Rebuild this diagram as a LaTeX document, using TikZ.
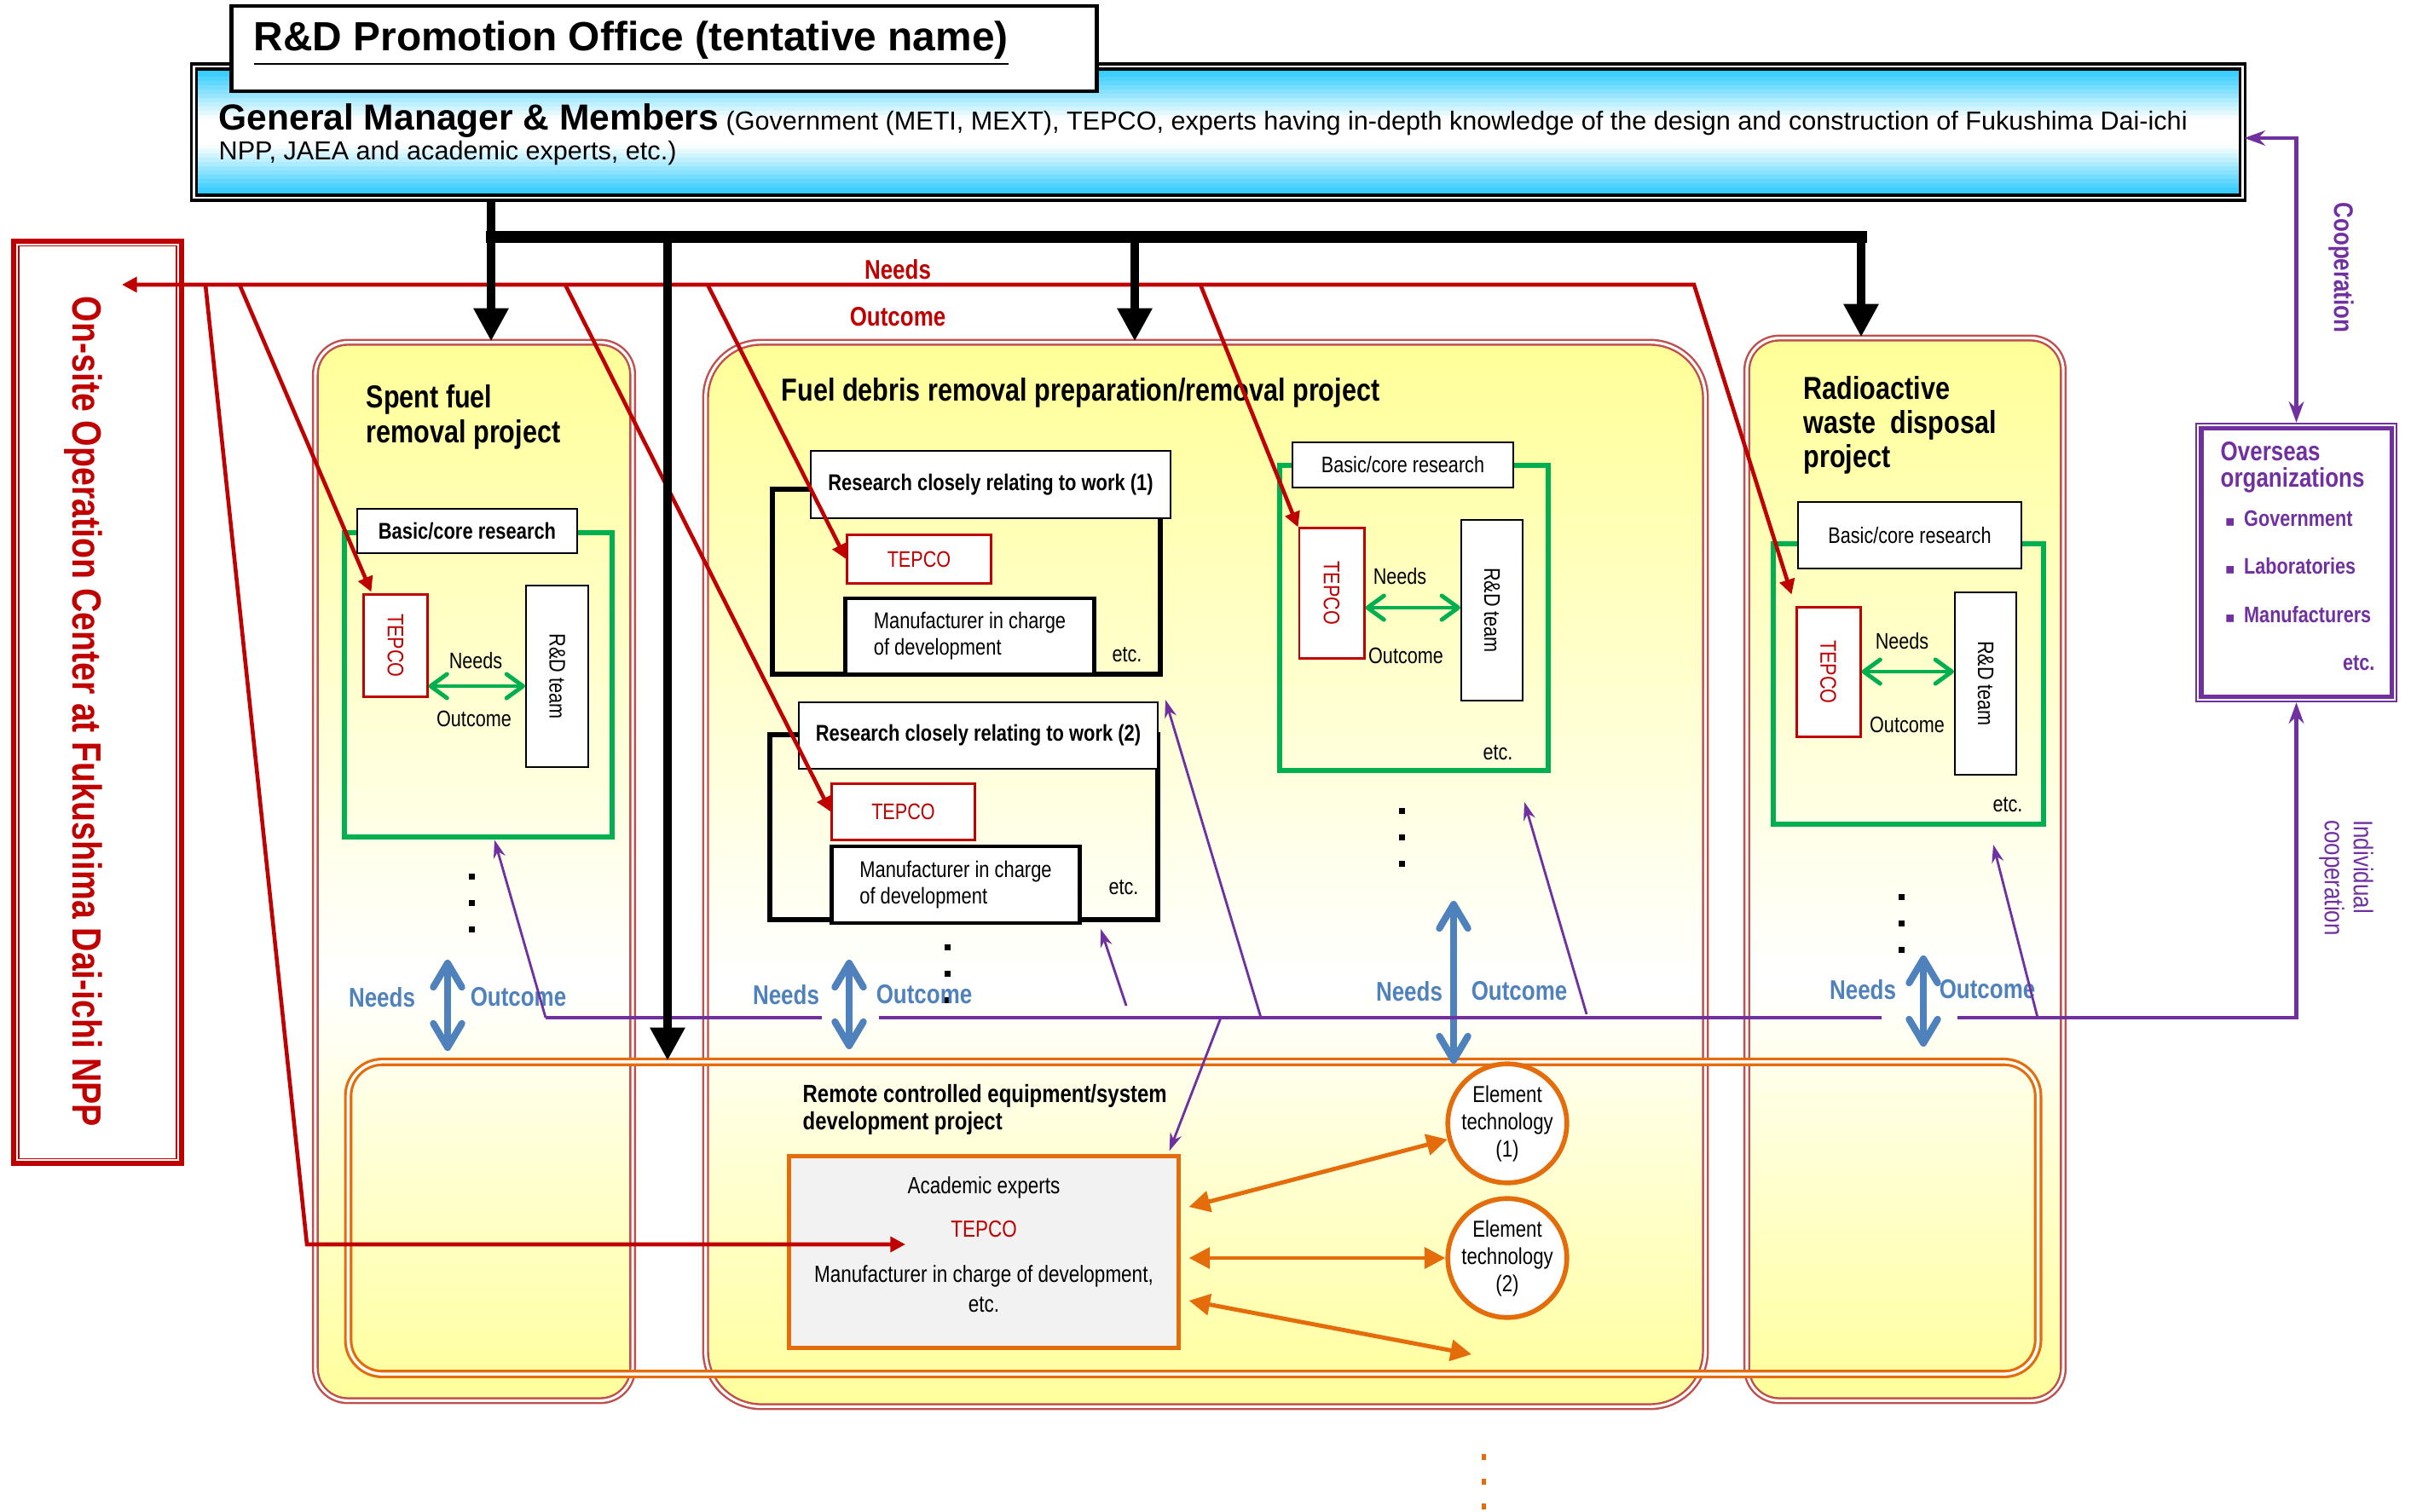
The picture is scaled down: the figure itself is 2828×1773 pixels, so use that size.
\documentclass[tikz,border=0pt]{standalone}
\usepackage{fontspec}
\usepackage{graphicx}
\setmainfont{Liberation Sans}[FakeStretch=0.82]
\newfontfamily\widefont{Liberation Sans}
\newfontfamily\symbolfont{DejaVu Sans}
\usetikzlibrary{arrows.meta,calc}

\definecolor{projred}{HTML}{C0504D}
\definecolor{projyellow}{HTML}{FFFF99}
\definecolor{boxgreen}{HTML}{00B050}
\definecolor{darkred}{HTML}{C00000}
\definecolor{deeporange}{HTML}{E46C0A}
\definecolor{steelblue}{HTML}{4F81BD}
\definecolor{coopviolet}{HTML}{7030A0}
\definecolor{skycyan}{HTML}{33CCFF}
\definecolor{panelgray}{HTML}{F2F2F2}

\begin{document}
\begin{tikzpicture}[x=0.01cm, y=-0.01cm, line join=miter,
  project/.style={draw=projred, double=white, line width=0.7pt, double distance=0.9pt},
  remote box/.style={draw=deeporange, double=white, line width=0.9pt, double distance=1pt, rounded corners=0.4cm},
  basic group/.style={draw=boxgreen, line width=1.9pt},
  research group/.style={draw=black, line width=1.7pt},
  label box/.style={draw=black, line width=0.7pt, fill=white, inner sep=0pt},
  tepco/.style={draw=darkred, line width=0.85pt, fill=white, text=darkred, inner sep=0pt, font=\fontsize{7.5}{9}\selectfont},
  team/.style={draw=black, line width=0.6pt, fill=white, inner sep=0pt, font=\fontsize{7.5}{9}\selectfont},
  maker/.style={draw=black, line width=1.4pt, fill=white, align=left, inner sep=0pt, font=\fontsize{7.6}{8.8}\selectfont},
  smalltext/.style={font=\fontsize{7.5}{9}\selectfont},
  titletext/.style={inner sep=0pt, align=left, font=\bfseries\fontsize{10.6}{11.7}\selectfont},
  element/.style={circle, draw=deeporange, line width=1.6pt, fill=white, minimum size=1.24cm, inner sep=0pt, align=center, font=\fontsize{7.7}{9.1}\selectfont},
  bluelabel/.style={text=steelblue, font=\bfseries\fontsize{9}{11}\selectfont},
  redlabel/.style={text=darkred, font=\bfseries\fontsize{9}{11}\selectfont},
  violettext/.style={text=coopviolet, inner sep=0pt, font=\bfseries\fontsize{7.5}{9}\selectfont},
  trunk/.style={draw=black, line width=3.1pt},
  trunkarrow/.style={trunk, -{Triangle[length=11pt,width=11pt]}},
  redline/.style={draw=darkred, line width=1.3pt, -{Triangle[length=5pt,width=5pt]}},
  coopline/.style={draw=coopviolet, line width=1.3pt},
  branch/.style={draw=coopviolet, line width=0.8pt, -{Stealth[length=6pt,width=4pt]}},
  greenarrow/.style={draw=boxgreen, line width=1.4pt, {Straight Barb[length=5.5pt,width=8pt,round]}-{Straight Barb[length=5.5pt,width=8pt,round]}},
  bluearrow/.style={draw=steelblue, line width=2.3pt, {Straight Barb[length=8pt,width=9.5pt,round]}-{Straight Barb[length=8pt,width=9.5pt,round]}},
  orangearrow/.style={draw=deeporange, line width=1.4pt, {Triangle[length=7pt,width=7pt]}-{Triangle[length=7pt,width=7pt]}}]

\useasboundingbox (0,0) rectangle (2828,1773);

% yellow fades of the project frames
\foreach \xa/\ya/\xb/\yb/\r in {370/402/742/1643/0.38cm, 828/402/2000/1650/0.65cm, 2049/397/2420/1643/0.38cm} {
  \begin{scope}
    \clip[rounded corners=\r] (\xa,\ya) rectangle (\xb,\yb);
    \foreach \i in {0,...,61} {
      \pgfmathsetmacro\ys{\ya+(\yb-\ya)/62*\i}
      \pgfmathsetmacro\ye{\ys+(\yb-\ya)/62+2}
      \pgfmathtruncatemacro\p{\i<37 ? 100*(37-\i)/37 : 100*(\i-37)/25}
      \fill[projyellow!\p!white] (\xa,\ys) rectangle (\xb,\ye);
    }
  \end{scope}
}

% project frames
\node[project, rounded corners=0.38cm, minimum width=3.72cm, minimum height=12.41cm] (spent) at (556,1022.5) {};
\node[project, rounded corners=0.65cm, minimum width=11.72cm, minimum height=12.48cm] (debris) at (1414,1026) {};
\node[project, rounded corners=0.38cm, minimum width=3.71cm, minimum height=12.46cm] (radio) at (2234.5,1020) {};
\node[remote box, minimum width=19.81cm, minimum height=3.66cm] (remote) at (1399.5,1429) {};

% promotion office
\begin{scope}
  \clip (230,80) rectangle (2628,230);
  \foreach \i in {0,...,29} {
    \pgfmathsetmacro\ys{80+5*\i}
    \pgfmathtruncatemacro\p{max(0,min(100,100*(abs(\ys+2.5-155)-15)/55))}
    \fill[skycyan!\p!white] (230,\ys) rectangle (2628,\ys+6);
  }
\end{scope}
\node[draw=black, double=white, line width=0.9pt, double distance=0.8pt, minimum width=24.02cm, minimum height=1.54cm] (gm) at (1429,155) {};
\node[draw=black, line width=1.4pt, fill=white, minimum width=10.14cm, minimum height=1.0cm] (office) at (779,57) {};
\node[anchor=base west, inner sep=0pt, font=\widefont\bfseries\fontsize{13.6}{16}\selectfont] (officeTitle) at (297,60) {\underline{R\&D Promotion Office (tentative name)}};
\node[anchor=base west, inner sep=0pt, font=\widefont\fontsize{8.7}{10.5}\selectfont] (gmLine1) at (256,153) {{\fontsize{12.1}{14}\selectfont\bfseries General Manager \& Members} (Government (METI, MEXT), TEPCO, experts having in-depth knowledge of the design and construction of Fukushima Dai-ichi};
\node[anchor=base west, inner sep=0pt, font=\widefont\fontsize{8.7}{10.5}\selectfont] (gmLine2) at (256,188) {NPP, JAEA and academic experts, etc.)};

% on-site center
\node[draw=darkred, line width=1.8pt, fill=white, minimum width=1.97cm, minimum height=10.82cm] (onsite) at (114.5,824) {};
\draw[darkred, line width=0.5pt] ($(onsite.north west)+(9,9)$) rectangle ($(onsite.south east)+(-9,-9)$);
\node[rotate=-90, text=darkred, font=\bfseries\fontsize{13.6}{16}\selectfont] (onsiteText) at (98,835) {On-site Operation Center at Fukushima Dai-ichi NPP};

% overseas
\node[draw=coopviolet, line width=0.6pt, fill=white, minimum width=2.35cm, minimum height=3.26cm] (overseas) at (2693.5,660) {};
\draw[coopviolet, line width=1.5pt] ($(overseas.north west)+(7,7)$) rectangle ($(overseas.south east)+(-7,-7)$);
\node[violettext, anchor=north west, align=left, font=\bfseries\fontsize{9}{8.6}\selectfont] (overseasTitle) at (2604,518) {Overseas\\organizations};
\node[violettext, anchor=west] (government) at (2609,608) {{\symbolfont\fontsize{5}{6}\selectfont ▪}\hspace{3pt}Government};
\node[violettext, anchor=west] (laboratories) at (2609,664) {{\symbolfont\fontsize{5}{6}\selectfont ▪}\hspace{3pt}Laboratories};
\node[violettext, anchor=west] (manufacturers) at (2609,721) {{\symbolfont\fontsize{5}{6}\selectfont ▪}\hspace{3pt}Manufacturers};
\node[violettext, anchor=east] (overseasEtc) at (2786,778) {etc.};
\node[rotate=-90, text=coopviolet, font=\bfseries\fontsize{9}{11}\selectfont] (cooperation) at (2746,314) {Cooperation};
\node[rotate=-90, align=left, text=coopviolet, font=\fontsize{9}{9.7}\selectfont] (individual) at (2752,1030) {Individual\\cooperation};

% spent fuel removal project
\node[titletext, anchor=north west] (spentTitle) at (429,451) {Spent fuel\\removal project};
\node[basic group, minimum width=3.14cm, minimum height=3.57cm] (grnS) at (561,803.5) {};
\node[label box, font=\bfseries\fontsize{7.6}{9}\selectfont, minimum width=2.58cm, minimum height=0.52cm] (basS) at (548,623) {Basic/core research};
\node[tepco, minimum width=0.74cm, minimum height=1.19cm] (tepS) at (464,757.5) {\rotatebox{-90}{TEPCO}};
\node[team, minimum width=0.73cm, minimum height=2.13cm] (rdS) at (653.5,793.5) {\rotatebox{-90}{R\&D team}};
\node[smalltext] (needsInS) at (558,775) {Needs};
\node[smalltext] (outcomeInS) at (556,843) {Outcome};

% fuel debris removal project
\node[titletext, anchor=base west] (debrisTitle) at (916,470) {Fuel debris removal preparation/removal project};
\node[research group, minimum width=4.55cm, minimum height=2.17cm] (frame1) at (1133.5,682.5) {};
\node[label box, font=\bfseries\fontsize{7.6}{9.5}\selectfont, minimum width=4.22cm, minimum height=0.79cm] (work1) at (1162,568.5) {Research closely relating to work (1)};
\node[tepco, minimum width=1.68cm, minimum height=0.56cm] (tepR1) at (1078,656) {TEPCO};
\node[maker, minimum width=2.91cm, minimum height=0.89cm] (maker1) at (1137.5,746.5) {Manufacturer in charge\\of development};
\node[smalltext] (etc1) at (1322,768) {etc.};
\node[research group, minimum width=4.55cm, minimum height=2.17cm] (frame2) at (1130.5,970.5) {};
\node[label box, font=\bfseries\fontsize{7.6}{9.5}\selectfont, minimum width=4.21cm, minimum height=0.78cm] (work2) at (1147.5,863) {Research closely relating to work (2)};
\node[tepco, minimum width=1.67cm, minimum height=0.65cm] (tepR2) at (1059.5,952.5) {TEPCO};
\node[maker, minimum width=2.90cm, minimum height=0.90cm] (maker2) at (1121,1038) {Manufacturer in charge\\of development};
\node[smalltext] (etc2) at (1318,1041) {etc.};

\node[basic group, minimum width=3.15cm, minimum height=3.58cm] (grnD) at (1658.5,725) {};
\node[label box, smalltext, minimum width=2.59cm, minimum height=0.53cm] (basD) at (1645.5,545.5) {Basic/core research};
\node[tepco, minimum width=0.76cm, minimum height=1.52cm] (tepD) at (1562,696) {\rotatebox{-90}{TEPCO}};
\node[team, minimum width=0.72cm, minimum height=2.12cm] (rdD) at (1750,716) {\rotatebox{-90}{R\&D team}};
\node[smalltext] (needsInD) at (1642,676) {Needs};
\node[smalltext] (outcomeInD) at (1649,769) {Outcome};
\node[smalltext] (etcD) at (1757,883) {etc.};

% radioactive waste disposal project
\node[titletext, anchor=north west, font=\bfseries\fontsize{10.6}{11.3}\selectfont] (radioTitle) at (2115,441) {Radioactive\\waste\ \ disposal\\project};
\node[basic group, minimum width=3.17cm, minimum height=3.29cm] (grnW) at (2238.5,802.5) {};
\node[label box, smalltext, minimum width=2.62cm, minimum height=0.78cm] (basW) at (2240,628) {Basic/core research};
\node[tepco, minimum width=0.75cm, minimum height=1.51cm] (tepW) at (2144.5,788.5) {\rotatebox{-90}{TEPCO}};
\node[team, minimum width=0.72cm, minimum height=2.14cm] (rdW) at (2329,802) {\rotatebox{-90}{R\&D team}};
\node[smalltext] (needsInW) at (2231,752) {Needs};
\node[smalltext] (outcomeInW) at (2237,850) {Outcome};
\node[smalltext] (etcW) at (2355,944) {etc.};

% remote controlled equipment project
\node[titletext, anchor=north west, font=\bfseries\fontsize{8.3}{9.1}\selectfont] (remoteTitle) at (941,1272) {Remote controlled equipment/system\\development project};
\node[draw=deeporange, line width=1.4pt, fill=panelgray, minimum width=4.56cm, minimum height=2.24cm] (acad) at (1154,1469) {};
\node[align=center, font=\fontsize{7.8}{10}\selectfont] (acadText) at (1154,1460) {Academic experts\\[4.6pt]\textcolor{darkred}{TEPCO}\\[5.1pt]Manufacturer in charge of development,\\etc.};
\node[element] (tech1) at (1768,1318) {Element\\technology\\(1)};
\node[element] (tech2) at (1768,1476) {Element\\technology\\(2)};

% dots
\foreach \x/\y in {553/1028, 1111/1111, 1644/951, 2230/1052}
  \foreach \k in {0,1,2}
    \fill (\x-3.5,\y+31*\k-3.5) rectangle +(7,7);
\foreach \k in {0,1,2}
  \fill[deeporange] (1738,1706+29*\k) rectangle +(5,7);

% green needs/outcome
\foreach \from/\to/\y in {tepS/rdS/805, tepD/rdD/713, tepW/rdW/788}
  \draw[greenarrow] (\from.east |- 0,\y) -- (\to.west |- 0,\y);

% blue needs/outcome
\foreach \name/\x/\ya/\yb/\xa/\xb/\yl in {S/525/1126/1233/448/608/1170, R/996/1126/1231/922/1084/1167, D/1705/1057/1248/1653/1782/1163, W/2256/1121/1228/2185/2331/1161} {
  \coordinate (blueTop\name) at (\x,\ya);
  \coordinate (blueBot\name) at (\x,\yb);
  \draw[bluearrow] (blueTop\name) -- (blueBot\name);
  \node[bluelabel] (needs\name) at (\xa,\yl) {Needs};
  \node[bluelabel] (outcome\name) at (\xb,\yl) {Outcome};
}

% orange links
\coordinate (orangeFree) at (1726,1589);
\draw[orangearrow] ($(acad.east |- 0,1416)+(10,0)$) -- (tech1.195);
\draw[orangearrow] ($(acad.east |- 0,1476)+(10,0)$) -- (tech2.west);
\draw[orangearrow] ($(acad.east |- 0,1526)+(10,0)$) -- (orangeFree);

% violet cooperation lines
\coordinate (violetStart) at (640,1194);
\coordinate (violetGapL) at (964,1194);
\coordinate (violetGapR) at (1031,1194);
\coordinate (violetGapL2) at (2207,1194);
\coordinate (violetGapR2) at (2296,1194);
\draw[coopline] (violetStart) -- (violetGapL);
\draw[coopline] (violetGapR) -- (violetGapL2);
\draw[coopline, -{Stealth[length=7pt,width=5pt]}] (violetGapR2) -| (overseas.south);
\draw[coopline, {Stealth[length=7pt,width=5pt]}-{Stealth[length=7pt,width=5pt]}] (overseas.north) |- ($(gm.east)+(0,7)$);
\coordinate (tipR2) at (1291,1090);
\coordinate (tipR1) at (1367,821);
\coordinate (tipD) at (1788,941);
\coordinate (tipW) at (2338,991);
\coordinate (footR2) at (1321,1180);
\coordinate (footR1) at (1479,1194);
\coordinate (footA) at (1432,1194);
\coordinate (footD) at (1861,1190);
\coordinate (footW) at (2390,1194);
\foreach \from/\to in {footR2/tipR2, footR1/tipR1, footD/tipD, footW/tipW}
  \draw[branch] (\from) -- (\to);
\draw[branch] (violetStart) -- ($(grnS.south)+(19,0)$);
\draw[branch] (footA) -- ($(acad.north east)+(-13,-4)$);

% needs/outcome with the on-site center
\coordinate (redTipL) at (143,334);
\coordinate (redEndR) at (1987,334);
\coordinate (redA) at (241,334);
\coordinate (redB) at (281,334);
\coordinate (redC) at (663,334);
\coordinate (redD) at (830,334);
\coordinate (redE) at (1408,334);
\coordinate (redBend) at (360,1460);
\coordinate (redTipAcad) at (1062,1460);
\draw[redline, {Triangle[length=5pt,width=5pt]}-{Triangle[length=5pt,width=5pt]}] ($(tepW.north west)+(-4,-14)$) -- (redEndR) -- (redTipL);
\draw[redline] (redA) -- (redBend) -- (redTipAcad);
\draw[redline] (redB) -- ($(tepS.north west)+(10,-2)$);
\foreach \from/\to in {redC/tepR2.west, redD/tepR1.west, redE/tepD.north west}
  \draw[redline] (\from) -- (\to);
\node[redlabel] (redNeeds) at (1053,316) {Needs};
\node[redlabel] (redOutcome) at (1053,372) {Outcome};

% orders from the office
\coordinate (busL) at (576,278);
\coordinate (busX) at (783,278);
\coordinate (busM) at (1331,278);
\coordinate (busR) at (2183,278);
\draw[trunk] (busL |- gm.south) -- (busL);
\draw[trunk, line width=3.7pt, line cap=rect] (busL) -- (busR);
\foreach \from/\to in {busL/spent, busM/debris, busR/radio}
  \draw[trunkarrow] (\from) -- (\from |- \to.north);
\draw[trunkarrow] (busX) -- (busX |- remote.north);
\end{tikzpicture}
\end{document}
